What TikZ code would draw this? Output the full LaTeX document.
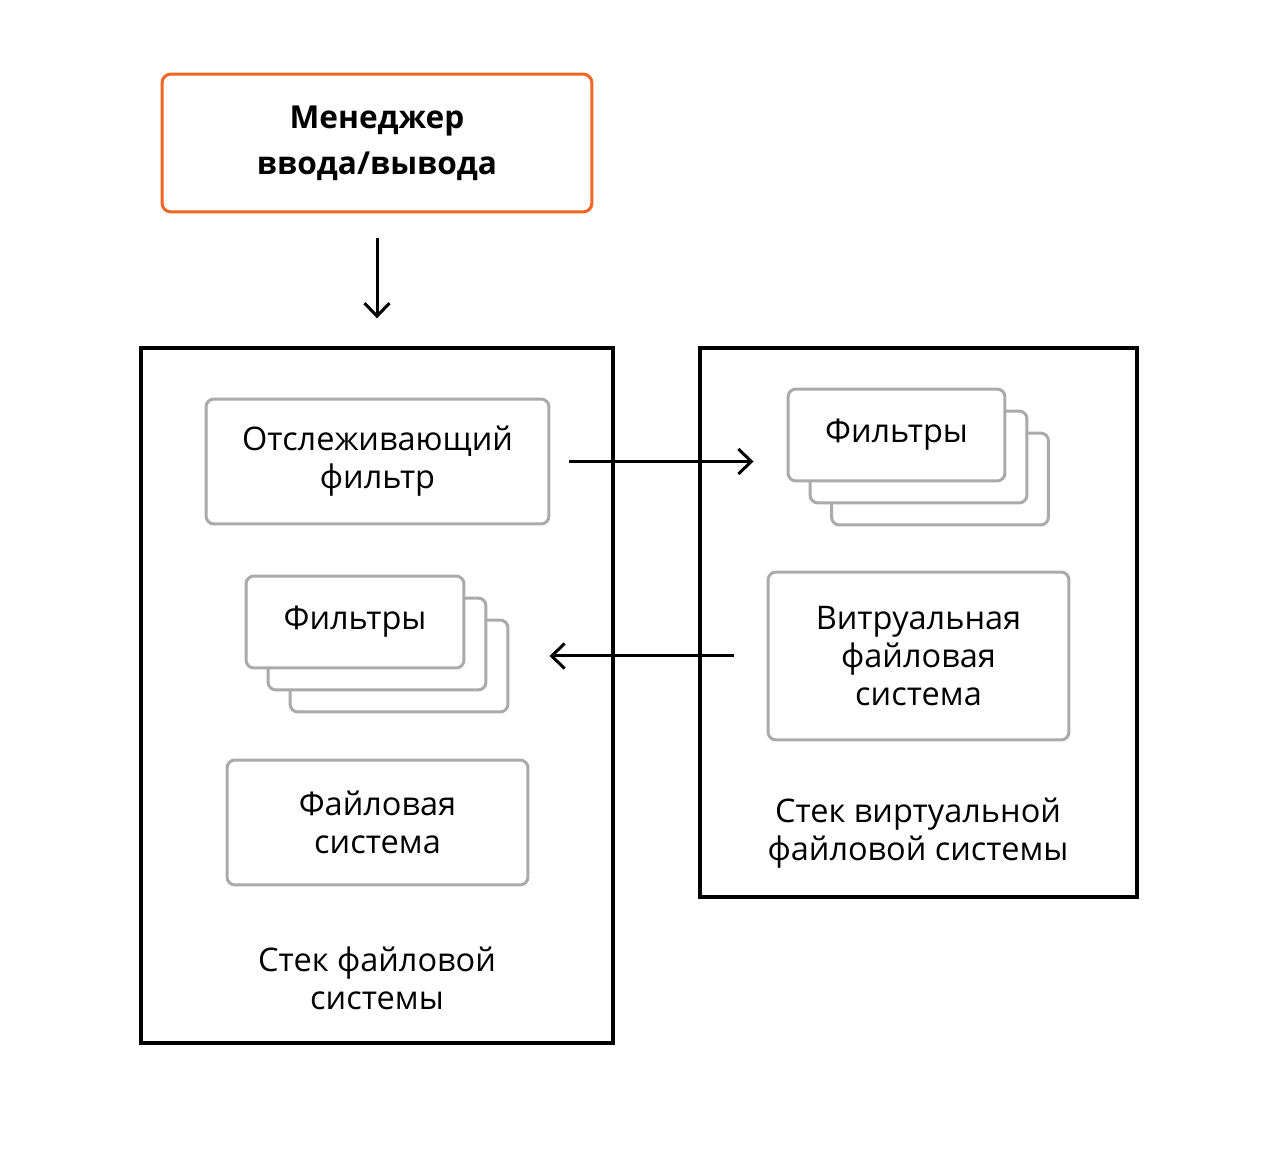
\documentclass[tikz,border=0pt]{standalone}
\usepackage{fontspec}
\setmainfont{Open Sans}
\usepackage{tikz}
\usetikzlibrary{arrows.meta}
\usetikzlibrary{calc}
\definecolor{mgrorange}{RGB}{242,101,34}
\definecolor{boxgray}{RGB}{170,170,172}

\begin{document}
\begin{tikzpicture}[x=0.02cm,y=-0.02cm,
  mgr/.style={draw=mgrorange,line width=0.06cm,rounded corners=0.18cm,align=center,
    font=\bfseries\fontsize{18}{26}\selectfont},
  stack/.style={draw=black,line width=0.07cm},
  part/.style={draw=boxgray,fill=white,line width=0.06cm,rounded corners=0.16cm,align=center,
    font=\fontsize{18.5}{21.5}\selectfont},
  caption/.style={align=center,font=\fontsize{18.5}{21.5}\selectfont},
  >={Straight Barb[length=0.26cm,width=0.5cm]}]
\useasboundingbox (0,0) rectangle (1272,1158);

\node[mgr,minimum width=8.6cm,minimum height=2.76cm] (mgr) at (377,143) {Менеджер\\ввода/вывода};

% file system stack
\node[stack,minimum width=9.44cm,minimum height=13.9cm] (fsstack) at (377,695.5) {};
\node[part,minimum width=6.86cm,minimum height=2.5cm] (track) at (377.5,461.5) {Отслеживающий\\фильтр};
\node[part,minimum width=4.36cm,minimum height=1.84cm] (lfilt3) at (399,666) {};
\node[part,minimum width=4.36cm,minimum height=1.84cm] (lfilt2) at (377,644) {};
\node[part,minimum width=4.36cm,minimum height=1.84cm] (lfilt1) at (355,622) {Фильтры};
\node[part,minimum width=6.02cm,minimum height=2.5cm] (fs) at (377.5,822.5) {Файловая\\система};
\node[caption] (fslabel) at (377,978.5) {Стек файловой\\системы};

% virtual file system stack
\node[stack,minimum width=8.74cm,minimum height=10.98cm] (vfsstack) at (918.5,622.5) {};
\node[part,minimum width=4.34cm,minimum height=1.84cm] (rfilt3) at (940,479) {};
\node[part,minimum width=4.34cm,minimum height=1.84cm] (rfilt2) at (918.5,457) {};
\node[part,minimum width=4.34cm,minimum height=1.84cm] (rfilt1) at (896.5,435) {Фильтры};
\node[part,minimum width=6.02cm,minimum height=3.36cm] (vfs) at (918.5,656) {Витруальная\\файловая\\система};
\node[caption] (vfslabel) at (918,833.5) {Стек виртуальной\\файловой системы};

\path[->,line width=0.06cm] ($(mgr.south)+(0,25)$) edge ($(fsstack.north)+(0,-28)$);
\path[->,line width=0.06cm] ($(track.east)+(19,0)$) edge ($(rfilt1.west |- track.east)+(-33,0)$);
\path[->,line width=0.06cm] ($(vfs.west)+(-33,0)$) edge ($(lfilt3.east |- vfs.west)+(40,0)$);
\end{tikzpicture}
\end{document}
